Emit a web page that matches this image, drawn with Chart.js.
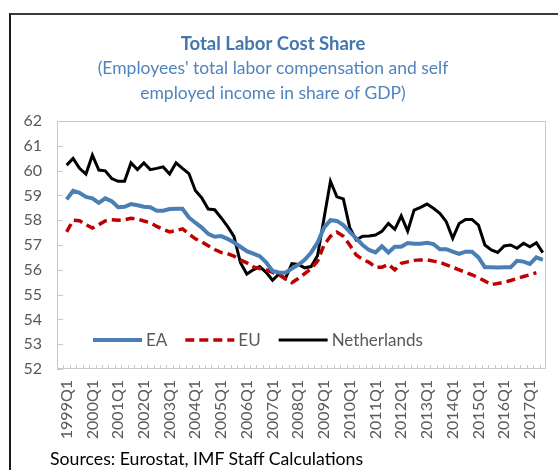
<!DOCTYPE html>
<html>
<head>
<meta charset="utf-8">
<script src="https://cdn.jsdelivr.net/npm/chart.js@4.4.1/dist/chart.umd.min.js"></script>
<style>
  body { margin: 0; background: #fff; }
  #wrap { position: relative; width: 558px; height: 470px; overflow: hidden; }
  #frame { position: absolute; left: 9px; top: 13px; width: 700px; height: 700px;
           border-top: 2px solid #3a3a3a; border-left: 2px solid #1a1a1a; }
  #src { position: absolute; left: 50px; top: 448px; font: 17.7px Lato, sans-serif; color: #000; }
</style>
</head>
<body>
<div id="wrap">
  <div id="frame"></div>
  <canvas id="laborChart" width="558" height="470" style="position:absolute;left:0;top:0"></canvas>
  <div id="src">Sources: Eurostat, IMF Staff Calculations</div>
</div>
<script>
// quarters 1999Q1 .. 2017Q3 (an empty slot sits before the first quarter, as in the original)
const quarters = [];
for (let yr = 1999; yr <= 2017; yr++) {
    for (let q = 1; q <= 4; q++) {
        if (yr === 2017 && q > 3) break;
        quarters.push(yr + 'Q' + q);
    }
}
const categories = [''].concat(quarters);

const yTicks = { min: 52, max: 62, step: 1 };

const ea = [
    58.84, 59.18, 59.1, 58.94, 58.88, 58.7, 58.88, 58.77, 58.52, 58.54,
    58.65, 58.6, 58.54, 58.52, 58.38, 58.38, 58.45, 58.46, 58.46, 58.11,
    57.9, 57.7, 57.45, 57.33, 57.36, 57.25, 57.1, 56.93, 56.75, 56.65,
    56.55, 56.3, 55.95, 55.89, 55.88, 56.05, 56.2, 56.4, 56.7, 57.1,
    57.7, 58.0, 57.97, 57.8, 57.53, 57.27, 57.0, 56.8, 56.7, 56.95,
    56.7, 56.93, 56.93, 57.08, 57.05, 57.05, 57.09, 57.04, 56.83, 56.83,
    56.73, 56.64, 56.73, 56.73, 56.5, 56.1, 56.1, 56.09, 56.1, 56.1,
    56.36, 56.33, 56.24, 56.5, 56.4
];

const eu = [
    57.53, 58.0, 57.98, 57.82, 57.68, 57.82, 57.97, 58.02, 58.0, 58.02,
    58.08, 58.05, 57.97, 57.9, 57.75, 57.63, 57.53, 57.58, 57.65, 57.45,
    57.25, 57.13, 56.97, 56.82, 56.7, 56.65, 56.55, 56.4, 56.28, 56.12,
    56.05, 56.0, 55.9, 55.8, 55.63, 55.48, 55.65, 55.85, 56.05, 56.35,
    57.0, 57.35, 57.52, 57.35, 57.0, 56.6, 56.42, 56.3, 56.1, 56.1,
    56.22, 56.0, 56.26, 56.32, 56.38, 56.4, 56.4, 56.35, 56.3, 56.2,
    56.1, 56.0, 55.9, 55.8, 55.68, 55.55, 55.4, 55.45, 55.5, 55.57,
    55.65, 55.73, 55.8, 55.88, null
];

const netherlands = [
    60.22, 60.49, 60.09, 59.86, 60.62, 60.02, 59.99, 59.68, 59.57, 59.57,
    60.31, 60.04, 60.31, 60.04, 60.09, 60.15, 59.86, 60.31, 60.09, 59.88,
    59.2, 58.9, 58.45, 58.42, 58.1, 57.75, 57.35, 56.3, 55.83, 56.0,
    56.13, 55.9, 55.58, 55.83, 55.65, 56.25, 56.22, 56.08, 56.13, 56.58,
    58.08, 59.57, 58.94, 58.86, 57.7, 57.2, 57.35, 57.36, 57.4, 57.55,
    57.87, 57.63, 58.17, 57.56, 58.41, 58.52, 58.65, 58.48, 58.28, 57.94,
    57.27, 57.87, 58.03, 58.03, 57.8, 57.0, 56.8, 56.7, 56.96, 57.0,
    56.87, 57.07, 56.93, 57.09, 56.69
];

const FONT = 'Lato, "Open Sans", sans-serif';
const GREY = '#595959';

// plot frame, inner tick marks and the in-plot legend
const framePlugin = {
    id: 'frame',
    beforeDatasetsDraw(chart) {
        const { ctx, chartArea: a, scales: { x, y } } = chart;
        ctx.save();
        ctx.strokeStyle = '#c9c9c9';
        ctx.lineWidth = 1;
        ctx.strokeRect(Math.round(a.left) + 0.5, Math.round(a.top) + 0.5,
            Math.round(a.width) - 1, Math.round(a.height) - 1);
        ctx.beginPath();
        y.ticks.forEach(t => {
            const py = Math.round(y.getPixelForValue(t.value)) + 0.5;
            ctx.moveTo(a.left, py);
            ctx.lineTo(a.left + 6, py);
        });
        for (let i = 1; i < categories.length; i++) {
            const px = Math.round((x.getPixelForValue(i - 1) + x.getPixelForValue(i)) / 2) + 0.5;
            ctx.moveTo(px, a.bottom);
            ctx.lineTo(px, a.bottom - 4);
        }
        ctx.stroke();
        ctx.restore();
    },
    afterDatasetsDraw(chart) {
        const { ctx, chartArea: a } = chart;
        const ly = a.bottom - 29;
        let lx = a.left + 36;
        ctx.save();
        ctx.font = '17px ' + FONT;
        ctx.textBaseline = 'middle';
        chart.data.datasets.forEach(ds => {
            ctx.beginPath();
            ctx.strokeStyle = ds.borderColor;
            ctx.lineWidth = ds.borderWidth;
            ctx.setLineDash(ds.borderDash || []);
            ctx.moveTo(lx, ly);
            ctx.lineTo(lx + 49, ly);
            ctx.stroke();
            ctx.setLineDash([]);
            ctx.fillStyle = GREY;
            ctx.fillText(ds.label, lx + 53, ly + 1);
            lx += 53 + ctx.measureText(ds.label).width + 18;
        });
        ctx.restore();
    }
};

const ctx = document.getElementById('laborChart').getContext('2d');

new Chart(ctx, {
    type: 'line',
    data: {
        labels: categories,
        datasets: [
            { label: 'EA', data: [null].concat(ea), borderColor: '#4a7eb4', borderWidth: 4 },
            { label: 'EU', data: [null].concat(eu), borderColor: '#c00000', borderWidth: 3.5, borderDash: [9, 5] },
            { label: 'Netherlands', data: [null].concat(netherlands), borderColor: '#000000', borderWidth: 3 }
        ]
    },
    options: {
        responsive: false,
        animation: false,
        elements: { point: { radius: 0 }, line: { tension: 0, borderCapStyle: 'butt' } },
        layout: { padding: { left: 0, right: 12, top: 0, bottom: 28 } },
        plugins: {
            legend: { display: false },
            tooltip: { enabled: false },
            title: {
                display: true,
                text: 'Total Labor Cost Share',
                color: '#4476b0',
                font: { family: FONT, size: 18.5, weight: 'bold', lineHeight: 1.1 },
                padding: { top: 34, bottom: 1 }
            },
            subtitle: {
                display: true,
                text: ["(Employees' total labor compensation and self", 'employed income in share of GDP)'],
                color: '#4f84bf',
                font: { family: FONT, size: 17.5, lineHeight: 1.43 },
                padding: { top: 0, bottom: 15.6 }
            }
        },
        scales: {
            x: {
                offset: true,
                grid: { display: false, drawTicks: false },
                border: { display: false },
                ticks: {
                    autoSkip: false,
                    minRotation: 90,
                    maxRotation: 90,
                    padding: 11,
                    color: GREY,
                    font: { family: FONT, size: 16 },
                    callback: function (value) {
                        const l = this.getLabelForValue(value);
                        return l.endsWith('Q1') ? l : '';
                    }
                },
                afterFit: s => {
                    s.height = 73;
                    s.paddingLeft = 0;
                    s.paddingRight = 0;
                }
            },
            y: {
                min: yTicks.min,
                max: yTicks.max,
                grid: { display: false, drawTicks: false },
                border: { display: false },
                ticks: {
                    stepSize: yTicks.step,
                    padding: 15,
                    color: GREY,
                    font: { family: FONT, size: 16 }
                },
                afterFit: s => { s.width = 57; }
            }
        }
    },
    plugins: [framePlugin]
});
</script>
</body>
</html>
